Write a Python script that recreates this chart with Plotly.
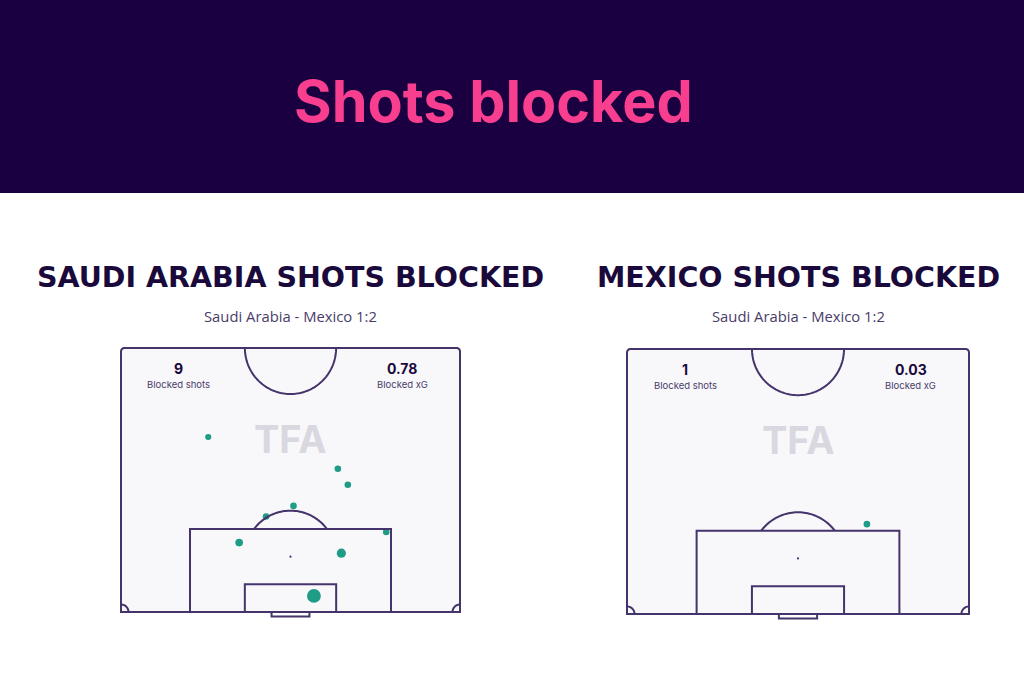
import numpy as np
import plotly.graph_objects as go

# ---------------- data ----------------
page_title = "Shots blocked"
team_titles = ["SAUDI ARABIA SHOTS BLOCKED", "MEXICO SHOTS BLOCKED"]
match_label = "Saudi Arabia - Mexico 1:2"
blocked_shots = [9, 1]
blocked_xg = ["0.78", "0.03"]

# shot locations in metres: x across pitch (0-68), y = distance from goal line (0-52.5)
sa_x = [17.5, 43.5, 45.5, 34.6, 29.1, 53.2, 23.7, 44.2, 38.7]
sa_y = [34.8, 28.5, 25.3, 21.1, 19.0, 15.9, 13.8, 11.7, 3.2]
sa_xg = [0.02, 0.03, 0.03, 0.03, 0.03, 0.03, 0.06, 0.12, 0.43]

mx_x = [47.7]
mx_y = [17.8]
mx_xg = [0.03]

# ---------------- style ----------------
W, H = 1024, 683
BAND = "#1a0040"
PINK = "#f83e8f"
DARK = "#1a0a3c"
LINE = "#45336b"
TEXT = "#4a3c6a"
PITCH_BG = "#f8f8fb"
DOT = "#1f9c86"

PL, PW = 68.0, 52.5  # pitch width, half-length

# pixel boxes of the pitch rectangles (left, right, top, bottom)
boxes = [(121, 460, 348, 612), (627, 969, 349, 614)]
XR = (-3.0, 71.0)
YR = (-3.0, 55.0)

fig = go.Figure()
layout_axes = {}
shapes = []
annotations = []


def arc(cx, cy, r, a0, a1, n=60):
    t = np.linspace(np.radians(a0), np.radians(a1), n)
    return cx + r * np.cos(t), cy + r * np.sin(t)


def poly_path(xs, ys):
    return "M " + " L ".join(f"{x:.3f},{y:.3f}" for x, y in zip(xs, ys))


for i, (l, r, t, b) in enumerate(boxes):
    sx = (r - l) / PL
    sy = (b - t) / PW
    x0p = l + XR[0] * sx
    x1p = l + XR[1] * sx
    ybp = b - YR[0] * sy
    ytp = b - YR[1] * sy
    xa = "xaxis" if i == 0 else f"xaxis{i+1}"
    ya = "yaxis" if i == 0 else f"yaxis{i+1}"
    xr = "x" if i == 0 else f"x{i+1}"
    yr = "y" if i == 0 else f"y{i+1}"
    layout_axes[xa] = dict(domain=[x0p / W, x1p / W], range=list(XR), visible=False,
                           fixedrange=True, anchor=yr)
    layout_axes[ya] = dict(domain=[1 - ybp / H, 1 - ytp / H], range=list(YR), visible=False,
                           fixedrange=True, anchor=xr)

    lw = 2
    ln = dict(color=LINE, width=lw)
    # outer boundary with rounded top corners
    rc = 0.7
    ox, oy = [0], [0]
    ax_, ay_ = arc(rc, PW - rc, rc, 180, 90, 10)
    ox += list(ax_); oy += list(ay_)
    ax_, ay_ = arc(PL - rc, PW - rc, rc, 90, 0, 10)
    ox += list(ax_); oy += list(ay_)
    ox += [PL]; oy += [0]
    shapes.append(dict(type="path", xref=xr, yref=yr, path=poly_path(ox, oy) + " Z",
                       line=ln, fillcolor=PITCH_BG, layer="below"))
    # centre circle (half)
    cxs, cys = arc(PL / 2, PW, 9.15, 180, 360, 80)
    shapes.append(dict(type="path", xref=xr, yref=yr, path=poly_path(cxs, cys), line=ln))
    # penalty area
    pa_w = 40.32
    shapes.append(dict(type="path", xref=xr, yref=yr,
                       path=poly_path([PL/2 - pa_w/2, PL/2 - pa_w/2, PL/2 + pa_w/2, PL/2 + pa_w/2],
                                      [0, 16.5, 16.5, 0]), line=ln))
    # six-yard box
    sb_w = 18.32
    shapes.append(dict(type="path", xref=xr, yref=yr,
                       path=poly_path([PL/2 - sb_w/2, PL/2 - sb_w/2, PL/2 + sb_w/2, PL/2 + sb_w/2],
                                      [0, 5.5, 5.5, 0]), line=ln))
    # penalty arc
    ang = np.degrees(np.arcsin((16.5 - 11) / 9.15))
    pxs, pys = arc(PL / 2, 11, 9.15, ang, 180 - ang, 50)
    shapes.append(dict(type="path", xref=xr, yref=yr, path=poly_path(pxs, pys), line=ln))
    # corner arcs
    c1x, c1y = arc(0, 0, 1.5, 0, 90, 15)
    shapes.append(dict(type="path", xref=xr, yref=yr, path=poly_path(c1x, c1y), line=ln))
    c2x, c2y = arc(PL, 0, 1.5, 90, 180, 15)
    shapes.append(dict(type="path", xref=xr, yref=yr, path=poly_path(c2x, c2y), line=ln))
    # goal
    g = 7.6
    shapes.append(dict(type="path", xref=xr, yref=yr,
                       path=poly_path([PL/2 - g/2, PL/2 - g/2, PL/2 + g/2, PL/2 + g/2],
                                      [0, -0.9, -0.9, 0]), line=ln))
    # penalty spot
    shapes.append(dict(type="circle", xref=xr, yref=yr, x0=PL/2 - 0.22, x1=PL/2 + 0.22,
                       y0=11 - 0.22, y1=11 + 0.22, line=dict(color=LINE, width=0),
                       fillcolor=LINE))

    # watermark
    annotations.append(dict(xref=xr, yref=yr, x=PL / 2, y=34.5, text="<b>TFA</b>",
                            showarrow=False, font=dict(family="Inter", size=38, color="#d9d7df")))
    # stats
    annotations.append(dict(xref=xr, yref=yr, x=11.6, y=48.5, text=f"<b>{blocked_shots[i]}</b>",
                            showarrow=False, font=dict(family="Inter", size=14, color=DARK)))
    annotations.append(dict(xref=xr, yref=yr, x=11.6, y=45.2, text="Blocked shots",
                            showarrow=False, font=dict(family="Inter", size=9.5, color=TEXT)))
    annotations.append(dict(xref=xr, yref=yr, x=56.4, y=48.5, text=f"<b>{blocked_xg[i]}</b>",
                            showarrow=False, font=dict(family="Inter", size=14, color=DARK)))
    annotations.append(dict(xref=xr, yref=yr, x=56.4, y=45.2, text="Blocked xG",
                            showarrow=False, font=dict(family="Inter", size=9.5, color=TEXT)))
    # titles
    cxp = (l + r) / 2
    annotations.append(dict(xref="paper", yref="paper", x=cxp / W, y=1 - 277 / H,
                            xanchor="center", yanchor="middle",
                            text=f"<b>{team_titles[i]}</b>", showarrow=False,
                            font=dict(family="DejaVu Sans", size=28.5, color=DARK)))
    annotations.append(dict(xref="paper", yref="paper", x=cxp / W, y=1 - 316 / H,
                            xanchor="center", yanchor="middle",
                            text=match_label, showarrow=False,
                            font=dict(family="Open Sans", size=14.8, color=TEXT)))

# shots
for i, (xs, ys, xg) in enumerate([(sa_x, sa_y, sa_xg), (mx_x, mx_y, mx_xg)]):
    xr = "x" if i == 0 else f"x{i+1}"
    yr = "y" if i == 0 else f"y{i+1}"
    fig.add_trace(go.Scatter(x=xs, y=ys, xaxis=xr, yaxis=yr, mode="markers",
                             marker=dict(color=DOT, size=[4 + 15 * np.sqrt(v) for v in xg],
                                         opacity=1, line=dict(width=0)),
                             hoverinfo="skip", showlegend=False))

# top band
shapes.insert(0, dict(type="rect", xref="paper", yref="paper", x0=0, x1=1, y0=1 - 193 / H, y1=1,
                      fillcolor=BAND, line=dict(width=0), layer="below"))
annotations.append(dict(xref="paper", yref="paper", x=493 / W, y=1 - 101 / H, text=f"<b>{page_title}</b>",
                        xanchor="center", yanchor="middle",
                        showarrow=False, font=dict(family="Inter", size=57.5, color=PINK)))

fig.update_layout(width=W, height=H, margin=dict(l=0, r=0, t=0, b=0),
                  paper_bgcolor="white", plot_bgcolor="rgba(0,0,0,0)",
                  shapes=shapes, annotations=annotations, showlegend=False, **layout_axes)

fig.write_html("out.html", config={"displayModeBar": False},
               post_script="document.body.style.margin='0px';document.body.style.overflow='hidden';")
